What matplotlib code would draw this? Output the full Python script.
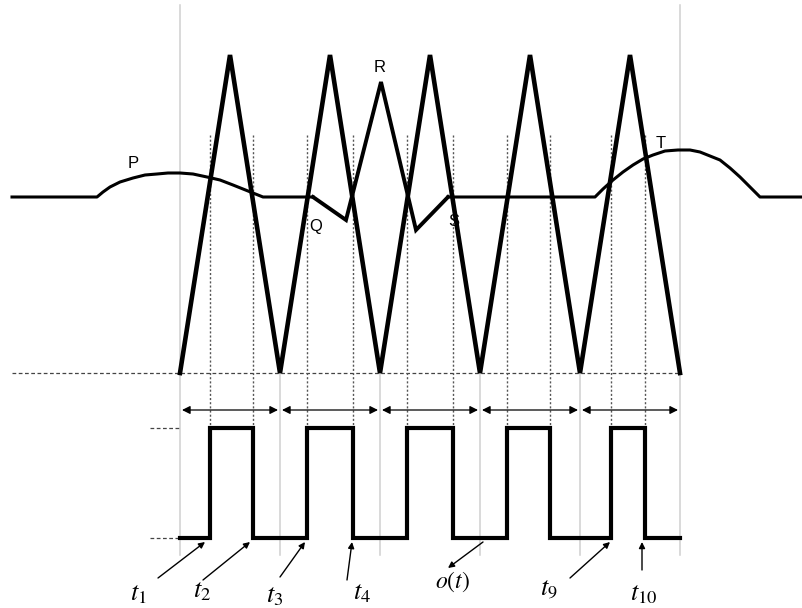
import matplotlib
matplotlib.use('Agg')
import matplotlib.pyplot as plt

plt.rcParams['mathtext.fontset'] = 'stix'

# carrier triangle (corner points)
tri_x = [180, 230, 280, 330, 380, 430, 480, 530, 580, 630, 680]
tri_y = [373, 55, 373, 55, 373, 55, 373, 55, 373, 55, 373]

# ECG-like modulating signal: P wave, QRS complex, T wave
p_x = [12, 97, 103, 110, 120, 133, 145, 157, 168, 180, 193, 207, 220, 233, 243, 253, 263, 313]
p_y = [197, 197, 192, 187, 182, 178, 175, 174, 173, 173, 174, 177, 180, 185, 189, 193, 197, 197]
qrs_x = [313, 346, 381, 416, 448]
qrs_y = [197, 220, 82, 230, 197]
t_x = [448, 595, 603, 613, 623, 633, 643, 653, 665, 678, 690, 700, 710, 720, 730, 740, 750, 760, 803]
t_y = [197, 197, 189, 180, 172, 165, 159, 155, 151, 150, 150, 152, 156, 160, 168, 177, 187, 197, 197]

# switching instants of the output pulse train
edges = [210, 253, 307, 353, 407, 453, 507, 550, 611, 645]
pulse_lo, pulse_hi = 538, 428
valleys = [180, 280, 380, 480, 580, 680]

wave_labels = {'P': (133, 163), 'Q': (316, 226), 'R': (380, 68), 'S': (454, 222), 'T': (661, 143)}

# (label, text position, arrow tail, arrow head)
time_labels = [
    ('$t_1$', (138, 593), (158, 578), (205, 542)),
    ('$t_2$', (202, 590), (203, 580), (250, 542)),
    ('$t_3$', (275, 595), (280, 577), (305, 542)),
    ('$t_4$', (362, 592), (347, 580), (352, 542)),
    ('$t_9$', (549, 587), (570, 578), (610, 542)),
    ('$t_{10}$', (644, 593), (642, 570), (642, 542)),
]

fig = plt.figure(figsize=(8.03, 6.08), dpi=100)
ax = fig.add_axes([0, 0, 1, 1])
ax.set_xlim(0, 803)
ax.set_ylim(608, 0)
ax.axis('off')

grey = '#cfcfcf'
# frame lines
ax.plot([180, 180], [5, 555], color=grey, lw=1.1)
ax.plot([680, 680], [5, 555], color=grey, lw=1.1)
for v in valleys[1:-1]:
    ax.plot([v, v], [373, 555], color=grey, lw=1.1)
ax.plot([12, 680], [373, 373], color='#444444', lw=0.9, ls=(0, (3, 2)))
ax.plot([150, 180], [pulse_hi, pulse_hi], color='#444444', lw=0.9, ls=(0, (3, 2)))
ax.plot([150, 180], [pulse_lo, pulse_lo], color='#444444', lw=0.9, ls=(0, (3, 2)))

# projection lines from the crossings
for e in edges:
    ax.plot([e, e], [135, pulse_hi], color='#555555', lw=1.0, ls=(0, (1.5, 1.5)))

# period arrows
for a, b in zip(valleys[:-1], valleys[1:]):
    ax.annotate('', xy=(a + 2, 410), xytext=(b - 2, 410),
                arrowprops=dict(arrowstyle='<|-|>', color='black', lw=0.9,
                                mutation_scale=12, shrinkA=0, shrinkB=0))

ax.plot(tri_x, tri_y, color='black', lw=3.3, solid_joinstyle='miter')
ax.plot(p_x, p_y, color='black', lw=2.2, solid_joinstyle='round')
ax.plot(qrs_x, qrs_y, color='black', lw=2.8, solid_joinstyle='miter')
ax.plot(t_x, t_y, color='black', lw=2.2, solid_joinstyle='round')

# pulse train
px = [180]
py = [pulse_lo]
for i, e in enumerate(edges):
    lvl_before = pulse_lo if i % 2 == 0 else pulse_hi
    lvl_after = pulse_hi if i % 2 == 0 else pulse_lo
    px += [e, e]
    py += [lvl_before, lvl_after]
px.append(680)
py.append(pulse_lo)
ax.plot(px, py, color='black', lw=3.0, solid_joinstyle='miter')

for name, (x, y) in wave_labels.items():
    ax.text(x, y, name, fontsize=12, family='Liberation Sans', ha='center', va='center')

for lab, tpos, tail, head in time_labels:
    ax.text(tpos[0], tpos[1], lab, fontsize=19, ha='center', va='center')
    ax.annotate('', xy=head, xytext=tail,
                arrowprops=dict(arrowstyle='-|>', color='black', lw=1.0,
                                mutation_scale=9, shrinkA=0, shrinkB=0))

ax.text(452, 582, '$o(t)$', fontsize=17, ha='center', va='center')
ax.annotate('', xy=(448, 568), xytext=(483, 542),
            arrowprops=dict(arrowstyle='-|>', color='black', lw=1.0,
                            mutation_scale=9, shrinkA=0, shrinkB=0))

fig.savefig('out.png', dpi=100)
